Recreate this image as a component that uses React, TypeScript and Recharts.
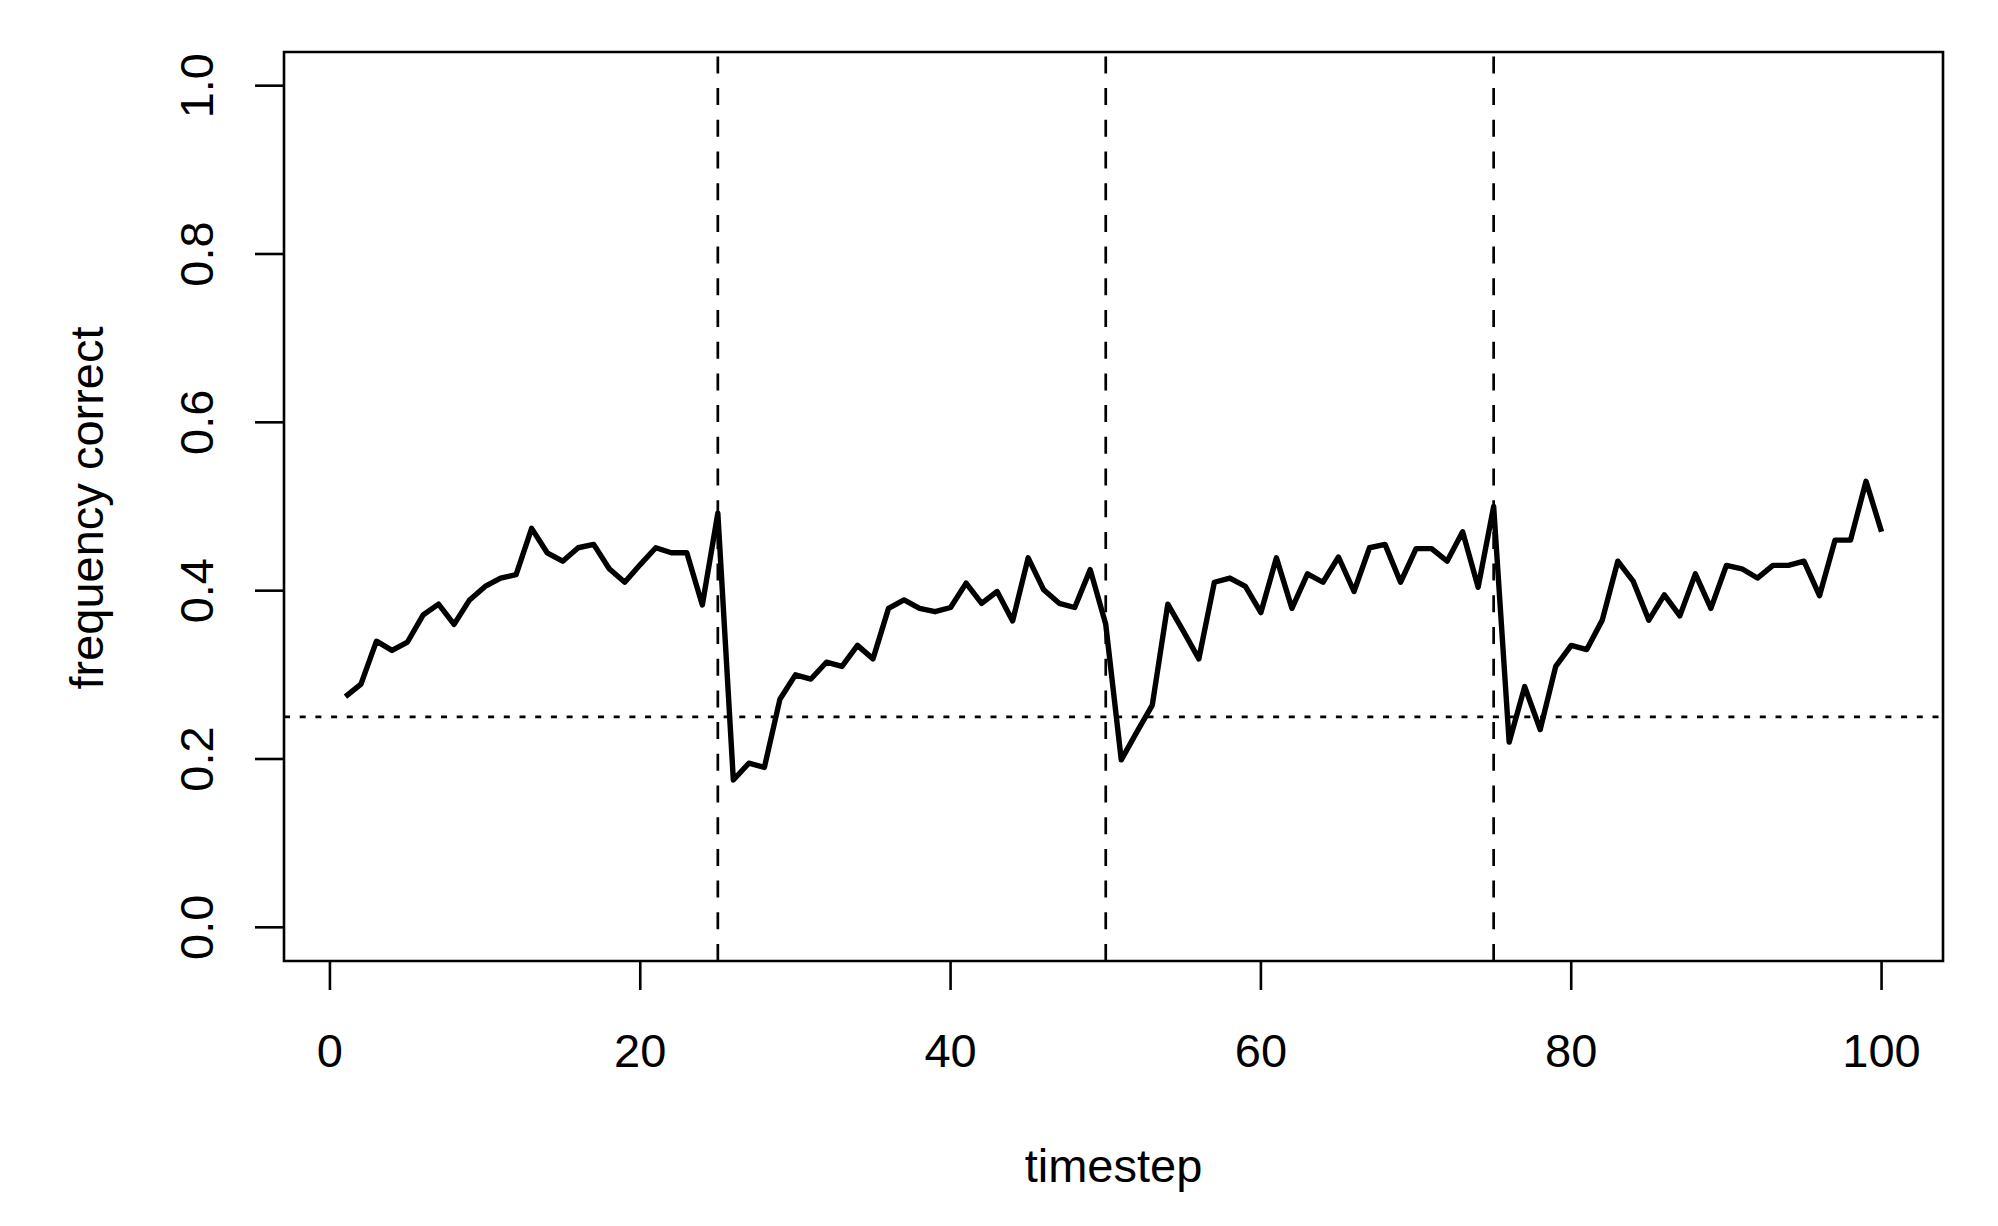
import { LineChart, Line, XAxis, YAxis, ReferenceLine, ReferenceArea } from 'recharts';

// timestep index (x) and proportion of correct answers (y)
const timesteps = [
  1, 2, 3, 4, 5, 6, 7, 8, 9, 10, 11, 12, 13, 14, 15, 16, 17, 18, 19, 20, 21, 22, 23, 24, 25,
  26, 27, 28, 29, 30, 31, 32, 33, 34, 35, 36, 37, 38, 39, 40, 41, 42, 43, 44, 45, 46, 47, 48, 49, 50,
  51, 52, 53, 54, 55, 56, 57, 58, 59, 60, 61, 62, 63, 64, 65, 66, 67, 68, 69, 70, 71, 72, 73, 74, 75,
  76, 77, 78, 79, 80, 81, 82, 83, 84, 85, 86, 87, 88, 89, 90, 91, 92, 93, 94, 95, 96, 97, 98, 99, 100,
];

const freqCorrect = [
  0.274, 0.289, 0.340, 0.329, 0.339, 0.371, 0.384, 0.360, 0.389, 0.405, 0.415, 0.419, 0.474,
  0.445, 0.435, 0.451, 0.455, 0.426, 0.410, 0.431, 0.451, 0.445, 0.445, 0.383, 0.492,
  0.175, 0.195, 0.190, 0.271, 0.300, 0.295, 0.315, 0.310, 0.335, 0.319, 0.379, 0.389, 0.379,
  0.375, 0.380, 0.409, 0.385, 0.399, 0.364, 0.439, 0.401, 0.385, 0.380, 0.425, 0.360,
  0.199, 0.232, 0.264, 0.384, 0.352, 0.319, 0.410, 0.415, 0.405, 0.374, 0.439, 0.379, 0.420,
  0.410, 0.440, 0.399, 0.451, 0.455, 0.410, 0.450, 0.450, 0.435, 0.470, 0.404, 0.500,
  0.220, 0.286, 0.235, 0.310, 0.335, 0.330, 0.365, 0.435, 0.411, 0.365, 0.395, 0.370, 0.420,
  0.379, 0.430, 0.426, 0.415, 0.430, 0.430, 0.435, 0.394, 0.460, 0.460, 0.530, 0.470,
];

const xTicks = [0, 20, 40, 60, 80, 100];
const yTicks = [0, 0.2, 0.4, 0.6, 0.8, 1.0];
const blockStarts = [25, 50, 75];
const chance = 0.25;

const data = timesteps.map((t, i) => ({ t, freq: freqCorrect[i] }));

// R-style padded ranges (4% each side)
const xDomain = [-2.96, 103.96];
const yDomain = [-0.04, 1.04];

const W = 1998;
const H = 1226;
const PLOT = { left: 284, top: 52, right: 1943, bottom: 961 };
const AXIS_W = 60;
const AXIS_H = 60;
const FONT = '"Liberation Sans", Arial, Helvetica, sans-serif';
const FS = 47;

const XTick = (props: any) => {
  const { x, payload } = props;
  return (
    <text x={x} y={PLOT.bottom + 106} textAnchor="middle" fontSize={FS} fontFamily={FONT} fill="#000">
      {payload.value}
    </text>
  );
};

const YTick = (props: any) => {
  const { y, payload } = props;
  const bx = 213;
  return (
    <text
      x={bx}
      y={y}
      transform={`rotate(-90 ${bx} ${y})`}
      textAnchor="middle"
      fontSize={FS}
      fontFamily={FONT}
      fill="#000"
    >
      {Number(payload.value).toFixed(1)}
    </text>
  );
};

const XTitle = () => (
  <text x={(PLOT.left + PLOT.right) / 2} y={1182} textAnchor="middle" fontSize={FS} fontFamily={FONT} fill="#000">
    timestep
  </text>
);

const YTitle = () => (
  <text
    x={103}
    y={508}
    transform="rotate(-90 103 508)"
    textAnchor="middle"
    fontSize={FS}
    fontFamily={FONT}
    fill="#000"
  >
    frequency correct
  </text>
);

export default function App() {
  return (
    <div style={{ position: 'absolute', left: 0, top: 0, width: W, height: H, background: '#fff' }}>
      <LineChart
        width={W}
        height={H}
        data={data}
        margin={{
          top: PLOT.top,
          right: W - PLOT.right,
          bottom: H - PLOT.bottom - AXIS_H,
          left: PLOT.left - AXIS_W,
        }}
      >
        <XAxis
          dataKey="t"
          type="number"
          domain={xDomain}
          allowDataOverflow
          ticks={xTicks}
          interval={0}
          height={AXIS_H}
          axisLine={false}
          tickLine={{ stroke: '#000', strokeWidth: 2.6 }}
          tickSize={29}
          tick={<XTick />}
          label={{ content: () => <XTitle /> }}
        />
        <YAxis
          type="number"
          domain={yDomain}
          allowDataOverflow
          ticks={yTicks}
          interval={0}
          width={AXIS_W}
          axisLine={false}
          tickLine={{ stroke: '#000', strokeWidth: 2.6 }}
          tickSize={29}
          tick={<YTick />}
          label={{ content: () => <YTitle /> }}
        />
        {blockStarts.map((b) => (
          <ReferenceLine key={b} x={b} stroke="#000" strokeWidth={2.7} strokeDasharray="17 14.7" />
        ))}
        <ReferenceLine y={chance} stroke="#000" strokeWidth={2.7} strokeDasharray="6 9.7" />
        <Line
          type="linear"
          dataKey="freq"
          stroke="#000"
          strokeWidth={5.4}
          strokeLinejoin="round"
          dot={false}
          activeDot={false}
          isAnimationActive={false}
        />
        <ReferenceArea
          x1={xDomain[0]}
          x2={xDomain[1]}
          y1={yDomain[0]}
          y2={yDomain[1]}
          fill="none"
          fillOpacity={0}
          stroke="#000"
          strokeWidth={2.6}
        />
      </LineChart>
    </div>
  );
}
